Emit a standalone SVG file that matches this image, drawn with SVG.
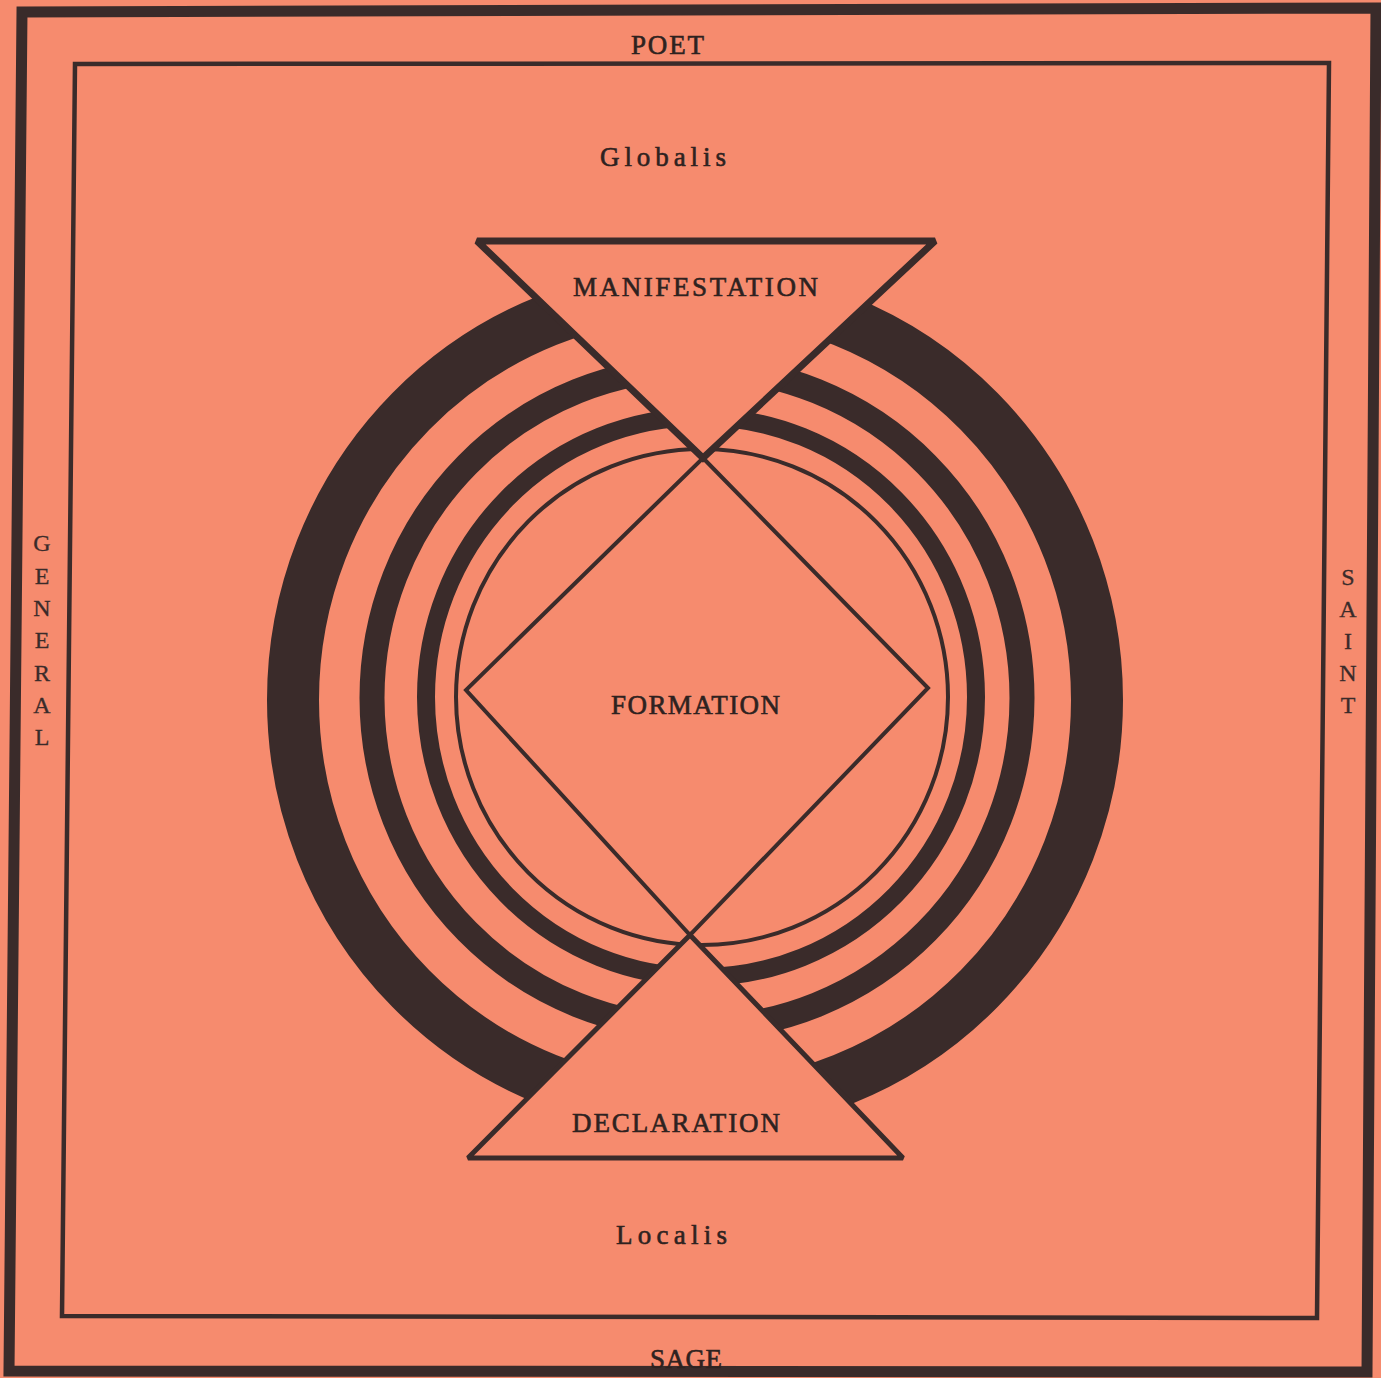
<svg xmlns="http://www.w3.org/2000/svg" width="1381" height="1378" viewBox="0 0 1381 1378">
  <style>
    .ink { stroke: #3a2b2a; fill: none; stroke-linejoin: miter; }
    .tri { stroke: #3a2b2a; fill: #f68b6e; stroke-linejoin: miter; stroke-miterlimit: 2; }
    .lbl { font-family: "Liberation Serif", "DejaVu Serif", serif; font-size: 27px; fill: #2e2220; stroke: #2e2220; stroke-width: 0.6; }
    .side { font-family: "Liberation Serif", "DejaVu Serif", serif; font-size: 24px; fill: #3a2b2a; stroke: #3a2b2a; stroke-width: 0.3; text-anchor: middle; }
  </style>
  <rect x="0" y="0" width="1381" height="1378" fill="#f68b6e"/>

  <g id="frame">
    <polygon class="ink" points="22,12 1376,8 1367,1372 9,1371" stroke-width="11"/>
    <polygon class="ink" points="75,64 1329,63 1317,1318 62,1316" stroke-width="4.5"/>
  </g>

  <g id="rings">
    <ellipse class="ink" cx="695" cy="700" rx="402" ry="408" stroke-width="52"/>
    <ellipse class="ink" cx="697" cy="698" rx="325" ry="330" stroke-width="25"/>
    <ellipse class="ink" cx="701" cy="697" rx="275" ry="280" stroke-width="18"/>
    <ellipse class="ink" cx="702" cy="697" rx="246" ry="248" stroke-width="4"/>
  </g>

  <g id="manifestation">
    <polygon class="tri" points="477,241 935,241 703,458" stroke-width="7"/>
    <text class="lbl" x="573" y="296" textLength="245" lengthAdjust="spacing">MANIFESTATION</text>
  </g>

  <g id="formation">
    <polygon class="ink" points="703,458 928,688 690,935 466,690" stroke-width="4"/>
    <text class="lbl" x="611" y="714" textLength="169" lengthAdjust="spacing">FORMATION</text>
  </g>

  <g id="declaration">
    <polygon class="tri" points="690,935 903,1158 468,1158" stroke-width="5"/>
    <text class="lbl" x="572" y="1132" textLength="208" lengthAdjust="spacing">DECLARATION</text>
  </g>

  <g id="labels">
    <text class="lbl" x="631" y="54" textLength="73" lengthAdjust="spacing">POET</text>
    <text class="lbl" x="600" y="166" textLength="126" lengthAdjust="spacing">Globalis</text>
    <text class="lbl" x="616" y="1244" textLength="111" lengthAdjust="spacing">Localis</text>
    <text class="lbl" x="650" y="1368" textLength="72" lengthAdjust="spacing">SAGE</text>
  </g>

  <g id="general">
    <text class="side" x="42" y="551">G</text>
    <text class="side" x="42" y="584">E</text>
    <text class="side" x="42" y="616">N</text>
    <text class="side" x="42" y="648">E</text>
    <text class="side" x="42" y="681">R</text>
    <text class="side" x="42" y="713">A</text>
    <text class="side" x="42" y="745">L</text>
  </g>

  <g id="saint">
    <text class="side" x="1348" y="585">S</text>
    <text class="side" x="1348" y="617">A</text>
    <text class="side" x="1348" y="649">I</text>
    <text class="side" x="1348" y="681">N</text>
    <text class="side" x="1348" y="713">T</text>
  </g>

  <g id="connectors"></g>
</svg>
